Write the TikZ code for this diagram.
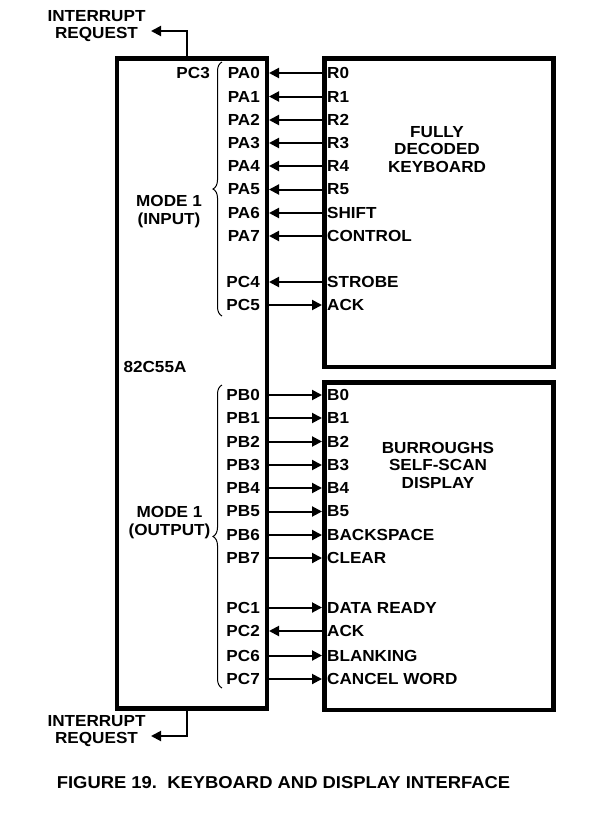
\documentclass[tikz,border=0pt]{standalone}
\usepackage{fontspec}
\setmainfont{Liberation Sans}[FakeStretch=1.07]
\usetikzlibrary{arrows.meta,decorations.pathreplacing}
\begin{document}
\begin{tikzpicture}[x=1pt,y=-1pt,
  font=\bfseries\fontsize{16}{17.5}\selectfont,
  box/.style={draw,line width=4.5pt,inner sep=0pt,anchor=north west},
  sig/.style={line width=2pt},
  tipped/.style={-{Triangle[length=10pt,width=10pt]}},
  llab/.style={inner sep=0pt,anchor=east},
  rlab/.style={inner sep=0pt,anchor=west},
  txt/.style={inner sep=0pt,align=center},
  bracestyle/.style={line width=1pt,decorate,decoration={brace,amplitude=9pt}}]
\useasboundingbox (0,0) rectangle (612,815);

% boxes
\node[box,minimum width=150pt,minimum height=650pt] (ppi) at (114.5,56) {};
\node[box,minimum width=229pt,minimum height=308.5pt] (kbd) at (322,56) {};
\node[box,minimum width=229pt,minimum height=327.5pt] (dsp) at (322,380) {};

% inputs (keyboard -> 82C55A)
\foreach \n/\r/\y in {PA0/R0/73,PA1/R1/96.5,PA2/R2/120,PA3/R3/143,PA4/R4/166,PA5/R5/189.5,PA6/SHIFT/213,PA7/CONTROL/236,PC4/STROBE/282}{
  \node[llab] (l-\n) at (260,\y) {\n};
  \node[rlab] (r-\n) at (327,\y) {\r};
  \draw[sig,tipped] (kbd.west |- l-\n) -- (ppi.east |- l-\n);
}
% output to keyboard
\node[llab] (l-PC5) at (260,305) {PC5};
\node[rlab] (r-PC5) at (327,305) {ACK};
\draw[sig,tipped] (ppi.east |- l-PC5) -- (kbd.west |- l-PC5);

% outputs to display
\foreach \n/\r/\y in {PB0/B0/395,PB1/B1/418,PB2/B2/441.5,PB3/B3/465,PB4/B4/488,PB5/B5/511.5,PB6/BACKSPACE/535,PB7/CLEAR/558,PC1/DATA READY/607.5,PC6/BLANKING/655.5,PC7/CANCEL WORD/679}{
  \node[llab] (l-\n) at (260,\y) {\n};
  \node[rlab] (r-\n) at (327,\y) {\r};
  \draw[sig,tipped] (ppi.east |- l-\n) -- (dsp.west |- l-\n);
}
% input from display
\node[llab] (l-PC2) at (260,631) {PC2};
\node[rlab] (r-PC2) at (327,631) {ACK};
\draw[sig,tipped] (dsp.west |- l-PC2) -- (ppi.east |- l-PC2);

% PC3 and braces
\node[llab] (pc3) at (210,73) {PC3};
\draw[bracestyle] (222,316) -- (222,62);
\draw[bracestyle] (222,688) -- (222,385);
\node[txt] (mode1in) at (169,211.5) {MODE 1\\(INPUT)};
\node[txt] (mode1out) at (169.5,522.5) {MODE 1\\(OUTPUT)};
\node[txt] (chip) at (155,367) {82C55A};

% keyboard / display titles
\node[txt] (kbdname) at (437,149.5) {FULLY\\DECODED\\KEYBOARD};
\node[txt] (dspname) at (438,465) {BURROUGHS\\SELF-SCAN\\DISPLAY};

% interrupt requests
\node[txt] (irq1) at (96.5,26) {INTERRUPT\\REQUEST};
\node[txt] (irq2) at (96.5,731) {INTERRUPT\\REQUEST};
\coordinate (irq1tip) at (151,31);
\coordinate (irq2tip) at (151,736);
\draw[sig,tipped] (ppi.north -| 187,0) |- (irq1tip);
\draw[sig,tipped] (ppi.south -| 187,0) |- (irq2tip);

% caption
\node[txt,font=\bfseries\fontsize{17.2}{19}\selectfont] (caption) at (283.5,783) {FIGURE 19.\ \ KEYBOARD AND DISPLAY INTERFACE};
\end{tikzpicture}
\end{document}
